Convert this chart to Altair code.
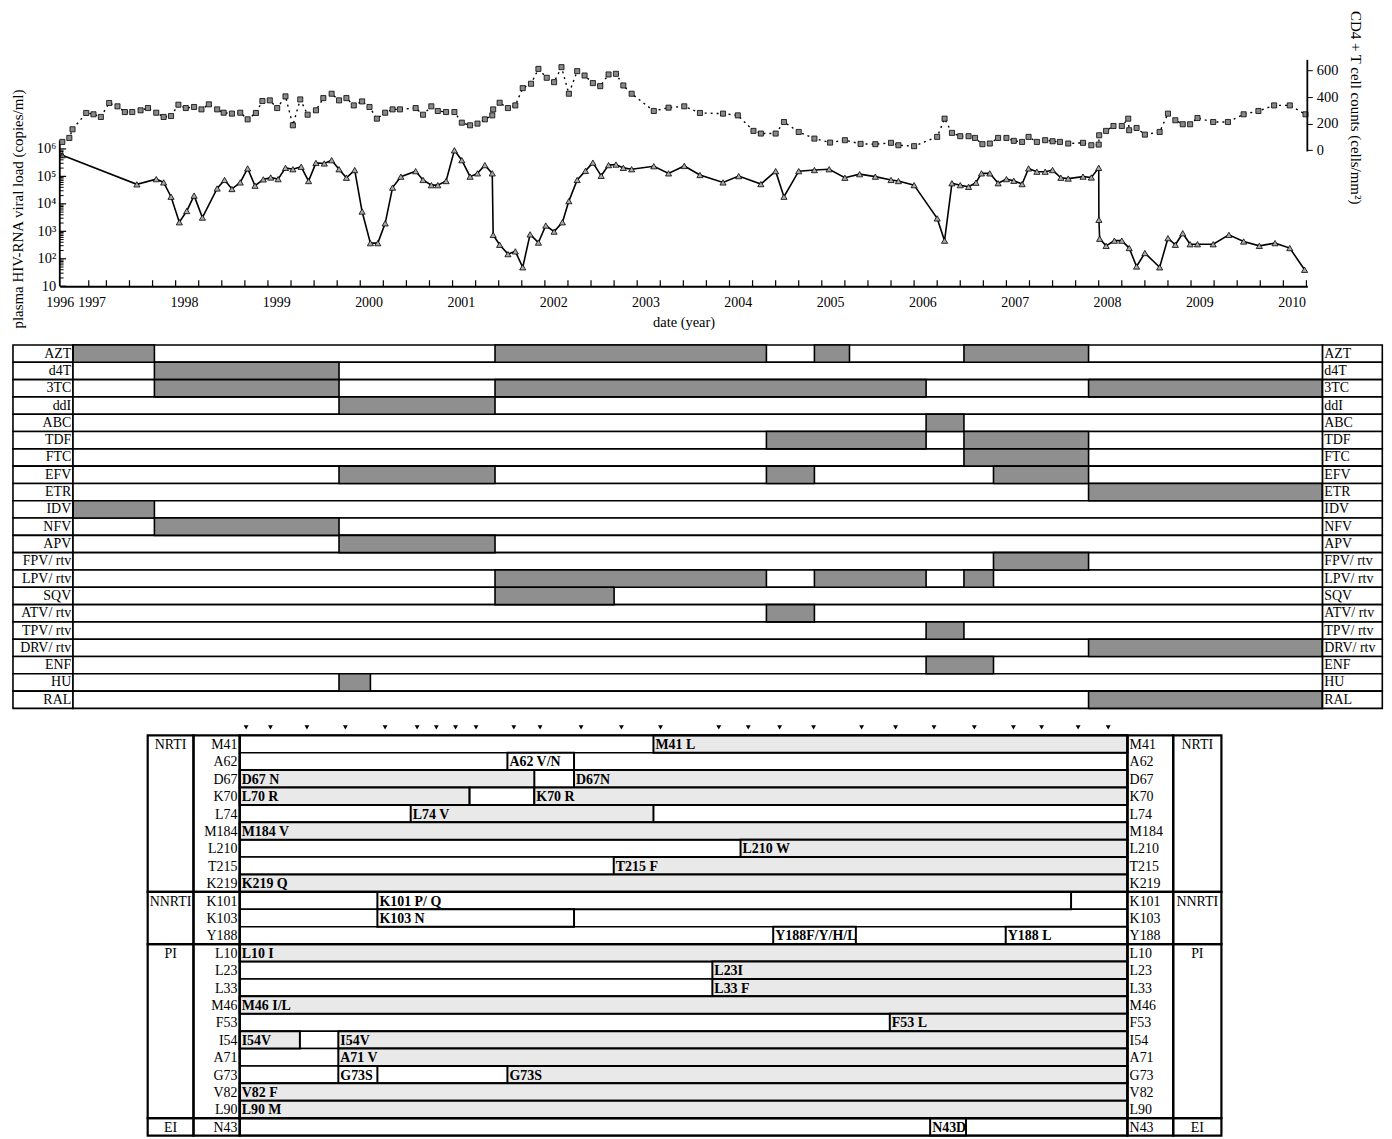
import altair as alt
import pandas as pd

FONT = "Liberation Serif"

# ---------------- top panel: viral load and CD4 counts ----------------
vl_year = [1996.08, 1997.49, 1997.70, 1997.78, 1997.86, 1997.95, 1998.03, 1998.11, 1998.20, 1998.36,
           1998.44, 1998.52, 1998.61, 1998.69, 1998.77, 1998.86, 1998.94, 1999.02, 1999.10, 1999.18,
           1999.27, 1999.35, 1999.43, 1999.52, 1999.60, 1999.68, 1999.76, 1999.85, 1999.93, 2000.02,
           2000.10, 2000.18, 2000.26, 2000.35, 2000.51, 2000.59, 2000.68, 2000.75, 2000.84, 2000.93,
           2001.01, 2001.10, 2001.18, 2001.26, 2001.34, 2001.35, 2001.42, 2001.51, 2001.59, 2001.67,
           2001.75, 2001.84, 2001.92, 2002.01, 2002.10, 2002.17, 2002.26, 2002.35, 2002.43, 2002.52,
           2002.60, 2002.68, 2002.76, 2002.85, 2003.09, 2003.25, 2003.42, 2003.59, 2003.84, 2004.01,
           2004.25, 2004.41, 2004.50, 2004.66, 2004.83, 2004.99, 2005.16, 2005.32, 2005.49, 2005.66,
           2005.74, 2005.91, 2006.16, 2006.24, 2006.32, 2006.41, 2006.50, 2006.58, 2006.64, 2006.73,
           2006.82, 2006.91, 2006.99, 2007.08, 2007.15, 2007.24, 2007.33, 2007.41, 2007.50, 2007.58,
           2007.74, 2007.83, 2007.91, 2007.912, 2007.92, 2007.99, 2008.08, 2008.16, 2008.24, 2008.32,
           2008.41, 2008.57, 2008.66, 2008.74, 2008.82, 2008.90, 2008.98, 2009.15, 2009.32, 2009.48,
           2009.65, 2009.82, 2009.98, 2010.14]
vl_log10 = [5.77, 4.71, 4.90, 4.78, 4.26, 3.33, 3.74, 4.30, 3.50, 4.56,
            4.87, 4.54, 4.78, 5.29, 4.66, 4.89, 4.96, 4.90, 5.31, 5.26,
            5.35, 4.83, 5.49, 5.47, 5.59, 5.26, 4.95, 5.23, 3.72, 2.57,
            2.57, 3.29, 4.59, 4.99, 5.19, 4.87, 4.68, 4.68, 4.83, 5.95,
            5.59, 4.99, 5.11, 5.41, 5.11, 2.87, 2.51, 2.17, 2.27, 1.69,
            2.89, 2.59, 3.21, 2.99, 3.33, 4.10, 4.87, 5.20, 5.50, 5.02,
            5.41, 5.43, 5.31, 5.26, 5.37, 5.11, 5.38, 5.05, 4.78, 5.01,
            4.72, 5.19, 4.26, 5.19, 5.23, 5.26, 4.95, 5.08, 4.99, 4.87,
            4.83, 4.68, 3.47, 2.66, 4.75, 4.68, 4.62, 4.77, 5.11, 5.11,
            4.75, 4.90, 4.84, 4.72, 5.29, 5.17, 5.17, 5.23, 4.95, 4.92,
            4.99, 4.96, 5.31, 3.42, 2.73, 2.47, 2.66, 2.66, 2.39, 1.72,
            2.21, 1.69, 2.75, 2.51, 2.93, 2.53, 2.53, 2.53, 2.87, 2.63,
            2.47, 2.57, 2.39, 1.60]

cd4_year = [1996.08, 1996.30, 1996.40, 1996.83, 1997.02, 1997.10, 1997.19, 1997.28, 1997.36, 1997.44,
            1997.53, 1997.61, 1997.70, 1997.78, 1997.86, 1997.94, 1998.02, 1998.11, 1998.19, 1998.27,
            1998.36, 1998.43, 1998.52, 1998.61, 1998.69, 1998.78, 1998.85, 1998.93, 1999.01, 1999.10,
            1999.18, 1999.26, 1999.34, 1999.43, 1999.51, 1999.60, 1999.68, 1999.76, 1999.84, 1999.93,
            2000.01, 2000.09, 2000.18, 2000.26, 2000.34, 2000.51, 2000.59, 2000.68, 2000.75, 2000.84,
            2000.93, 2001.01, 2001.10, 2001.18, 2001.26, 2001.34, 2001.35, 2001.42, 2001.51, 2001.59,
            2001.67, 2001.76, 2001.84, 2001.93, 2002.01, 2002.09, 2002.17, 2002.26, 2002.34, 2002.43,
            2002.51, 2002.60, 2002.68, 2002.76, 2002.85, 2003.09, 2003.25, 2003.42, 2003.59, 2003.84,
            2004.00, 2004.17, 2004.25, 2004.41, 2004.50, 2004.66, 2004.83, 2005.00, 2005.16, 2005.33,
            2005.49, 2005.66, 2005.74, 2005.91, 2006.16, 2006.24, 2006.32, 2006.41, 2006.50, 2006.57,
            2006.65, 2006.73, 2006.82, 2006.91, 2006.99, 2007.08, 2007.15, 2007.24, 2007.33, 2007.41,
            2007.49, 2007.58, 2007.74, 2007.83, 2007.91, 2007.915, 2007.99, 2008.07, 2008.16, 2008.23,
            2008.24, 2008.32, 2008.41, 2008.57, 2008.66, 2008.74, 2008.82, 2008.90, 2008.98, 2009.15,
            2009.31, 2009.48, 2009.64, 2009.81, 2009.98, 2010.15]
cd4_count = [62, 92, 157, 280, 270, 250, 355, 330, 287, 287,
             300, 317, 282, 250, 257, 342, 317, 325, 307, 345,
             307, 282, 275, 282, 232, 280, 370, 375, 317, 405,
             187, 382, 267, 300, 392, 425, 375, 392, 337, 367,
             325, 237, 282, 307, 307, 317, 267, 330, 295, 287,
             287, 207, 187, 200, 232, 262, 307, 357, 317, 337,
             467, 500, 612, 545, 512, 625, 425, 595, 562, 505,
             482, 570, 575, 487, 425, 295, 320, 330, 280, 275,
             262, 145, 125, 125, 212, 137, 87, 57, 75, 47,
             45, 55, 37, 30, 100, 237, 130, 105, 105, 92,
             45, 50, 92, 92, 70, 62, 100, 62, 75, 67,
             62, 50, 55, 37, 42, 112, 145, 182, 182, 237,
             150, 167, 117, 137, 275, 225, 195, 195, 242, 212,
             212, 270, 295, 337, 337, 270]

year_labels = list(range(1996, 2011))
quarter_ticks = [round(1996.91 + 0.25 * k, 2) for k in range(54)]
viral_decades = [10, 100, 1000, 10000, 100000, 1000000]
viral_minor = [m * 10 ** k for k in range(1, 6) for m in range(2, 10)]
cd4_tick_values = [0, 200, 400, 600]

# ---------------- middle panel: drug regimens ----------------
drugs = ["AZT", "d4T", "3TC", "ddI", "ABC", "TDF", "FTC", "EFV", "ETR", "IDV", "NFV", "APV",
         "FPV/ rtv", "LPV/ rtv", "SQV", "ATV/ rtv", "TPV/ rtv", "DRV/ rtv", "ENF", "HU", "RAL"]
on_drug = ["AZT", "AZT", "AZT", "AZT",
           "d4T",
           "3TC", "3TC", "3TC",
           "ddI", "ABC", "TDF", "TDF", "FTC",
           "EFV", "EFV", "EFV",
           "ETR", "IDV", "NFV", "APV", "FPV/ rtv",
           "LPV/ rtv", "LPV/ rtv", "LPV/ rtv",
           "SQV", "ATV/ rtv", "TPV/ rtv", "DRV/ rtv", "ENF", "HU", "RAL"]
on_start = [1996.42, 2001.37, 2004.83, 2006.45,
            1997.68,
            1997.68, 2001.37, 2007.80,
            1999.68, 2006.04, 2004.31, 2006.45, 2006.45,
            1999.68, 2004.31, 2006.77,
            2007.80, 1996.42, 1997.68, 1999.68, 2006.77,
            2001.37, 2004.83, 2006.45,
            2001.37, 2004.31, 2006.04, 2007.80, 2006.04, 1999.68, 2007.80]
on_end = [1997.68, 2004.31, 2005.21, 2007.80,
          1999.68,
          1999.68, 2006.04, 2010.33,
          2001.37, 2006.45, 2006.04, 2007.80, 2007.80,
          2001.37, 2004.83, 2007.80,
          2010.33, 1997.68, 1999.68, 2001.37, 2007.80,
          2004.31, 2006.04, 2006.77,
          2002.66, 2004.83, 2006.45, 2010.33, 2006.77, 2000.02, 2010.33]

# ---------------- bottom panel: resistance mutations ----------------
positions = ["M41", "A62", "D67", "K70", "L74", "M184", "L210", "T215", "K219",
             "K101", "K103", "Y188",
             "L10", "L23", "L33", "M46", "F53", "I54", "A71", "G73", "V82", "L90",
             "N43"]
sections = ["NRTI", "NNRTI", "PI", "EI"]
section_first = [0, 9, 12, 22]
section_last = [9, 12, 22, 23]

mut_pos = ["M41", "A62", "D67", "D67", "K70", "K70", "K70", "L74", "M184", "L210", "T215", "K219",
           "K101", "K103", "Y188", "Y188",
           "L10", "L23", "L33", "M46", "F53", "I54", "I54", "A71", "G73", "G73", "V82", "L90",
           "N43"]
mut_label = ["M41 L", "A62 V/N", "D67 N", "D67N", "L70 R", "", "K70 R", "L74 V", "M184 V", "L210 W",
             "T215 F", "K219 Q",
             "K101 P/ Q", "K103 N", "Y188F/Y/H/L", "Y188 L",
             "L10 I", "L23I", "L33 F", "M46 I/L", "F53 L", "I54V", "I54V", "A71 V", "G73S", "G73S",
             "V82 F", "L90 M",
             "N43D"]
mut_start = [2002.93, 2000.65, 1996.47, 2001.69, 1996.47, 2000.06, 2001.07, 1999.14, 1996.47, 2004.29,
             2002.31, 1996.47,
             1998.62, 1998.62, 2004.80, 2008.43,
             1996.47, 2003.85, 2003.85, 1996.47, 2006.62, 1996.47, 1998.01, 1998.01, 1998.01, 2000.65,
             1996.47, 1996.47,
             2007.25]
mut_end = [2010.33, 2001.69, 2001.07, 2010.33, 2000.06, 2001.07, 2010.33, 2002.93, 2010.33, 2010.33,
           2010.33, 2010.33,
           2009.45, 2001.69, 2006.09, 2010.33,
           2010.33, 2010.33, 2010.33, 2010.33, 2010.33, 1997.41, 2010.33, 2010.33, 1998.62, 2010.33,
           2010.33, 2010.33,
           2007.81]
mut_kind = ["dots", "plain", "dots", "dots", "dots", "plain", "dots", "dots", "dots", "dots",
            "dots", "dots",
            "plain", "plain", "plain", "plain",
            "dots", "dots", "dots", "dots", "dots", "dots", "dots", "dots", "plain", "dots",
            "dots", "dots",
            "plain"]
sample_times = [1996.57, 1996.95, 1997.52, 1998.12, 1998.74, 1999.24, 1999.54, 1999.84, 2000.16,
                2000.75, 2001.16, 2001.80, 2002.43, 2003.04, 2003.95, 2004.41, 2004.90, 2005.43,
                2006.18, 2006.71, 2007.31, 2007.94, 2008.55, 2008.99, 2009.56, 2010.03]

# ======================= TOP PANEL =======================
xs = alt.Scale(domain=[1996, 1997, 2010.17], range=[47, 79, 1300], nice=False, zero=False)
ylog = alt.Scale(type="log", domain=[10, 10 ** 11.04], nice=False)
ycd = alt.Scale(domain=[-1025, 1052], nice=False, zero=False)

vl_df = pd.DataFrame({"year": vl_year, "copies": [10 ** v for v in vl_log10]})
cd_df = pd.DataFrame({"year": cd4_year, "cd4": cd4_count})

x_axis = alt.Axis(values=year_labels, format="d", title="date (year)", grid=False, orient="bottom",
                  tickSize=0, labelPadding=9, labelFontSize=14, labelFont=FONT,
                  labelOverlap=False, labelFlush=False, labelColor="black",
                  titleFont=FONT, titleFontSize=14.5, titleFontWeight="normal", titleColor="black",
                  titlePadding=6, domainColor="black", domainWidth=1.8)

label_expr = ("datum.value < 50 ? '10' : '10' + ['', '', '²', '³', '⁴', '⁵', '⁶']"
              "[round(log(datum.value)/LN10)]")
y_axis = alt.Axis(orient="left", values=viral_decades, labelExpr=label_expr, offset=-47,
                  domain=False, grid=False, tickSize=0, labelPadding=4,
                  labelFont=FONT, labelFontSize=14.5, labelColor="black", labelOverlap=False,
                  labelFlush=False,
                  title="plasma HIV-RNA viral load (copies/ml)", titleFont=FONT, titleFontSize=15,
                  titleFontWeight="normal", titleColor="black", titleAngle=270, titleX=-34,
                  titleY=199, titleAlign="center", titleBaseline="bottom")

cd_axis = alt.Axis(orient="right", values=cd4_tick_values, domain=False, grid=False, tickSize=5,
                   tickColor="black", labelPadding=4, labelFont=FONT, labelFontSize=14.5,
                   labelColor="black", labelFlush=False,
                   title="CD4 + T cell counts (cells/mm²)", titleFont=FONT, titleFontSize=15,
                   titleFontWeight="normal", titleColor="black", titleAngle=90, titleX=40, titleY=0,
                   titleAlign="left", titleBaseline="bottom")

X = alt.X("year:Q", scale=xs, axis=x_axis)
Xr = alt.X("x:Q", scale=xs, axis=x_axis)

vl_line = alt.Chart(vl_df).mark_line(color="black", strokeWidth=1.6).encode(
    x=X, y=alt.Y("copies:Q", scale=ylog, axis=y_axis))
vl_pts = alt.Chart(vl_df).mark_point(shape="triangle-up", filled=True, fill="#a9a9a9",
                                     stroke="black", strokeWidth=0.8, size=38, opacity=1).encode(
    x=X, y=alt.Y("copies:Q", scale=ylog, axis=None))
left_rule = alt.Chart(pd.DataFrame({"x": [1996], "y": [10], "y2": [10 ** 6.3]})).mark_rule(
    color="black", strokeWidth=1.8).encode(
    x=Xr, y=alt.Y("y:Q", scale=ylog, axis=None), y2="y2")
major_df = pd.DataFrame({"x": [1996] * len(viral_decades), "x2": [1996.2] * len(viral_decades),
                         "y": viral_decades})
minor_df = pd.DataFrame({"x": [1996] * len(viral_minor), "x2": [1996.12] * len(viral_minor),
                         "y": viral_minor})
y_major = alt.Chart(major_df).mark_rule(color="black", strokeWidth=1.2).encode(
    x=Xr, x2="x2", y=alt.Y("y:Q", scale=ylog, axis=None))
y_minor = alt.Chart(minor_df).mark_rule(color="black", strokeWidth=1).encode(
    x=Xr, x2="x2", y=alt.Y("y:Q", scale=ylog, axis=None))
qt_df = pd.DataFrame({"x": quarter_ticks, "y": [10] * len(quarter_ticks),
                      "y2": [10 ** 1.22] * len(quarter_ticks)})
x_ticks = alt.Chart(qt_df).mark_rule(color="black", strokeWidth=1.2).encode(
    x=Xr, y=alt.Y("y:Q", scale=ylog, axis=None), y2="y2")

cd_line = alt.Chart(cd_df).mark_line(color="black", strokeWidth=1.4, strokeDash=[2, 4]).encode(
    x=X, y=alt.Y("cd4:Q", scale=ycd, axis=cd_axis))
cd_pts = alt.Chart(cd_df).mark_point(shape="square", filled=True, fill="#8a8a8a", stroke="black",
                                     strokeWidth=0.8, size=26, opacity=1).encode(
    x=X, y=alt.Y("cd4:Q", scale=ycd, axis=None))
right_rule = alt.Chart(pd.DataFrame({"x": [2010.17], "y": [-10], "y2": [680]})).mark_rule(
    color="black", strokeWidth=1.8).encode(
    x=Xr, y=alt.Y("y:Q", scale=ycd, axis=None), y2="y2")

top = alt.layer(vl_line, vl_pts, left_rule, y_major, y_minor, x_ticks,
                cd_line, cd_pts, right_rule).resolve_scale(
    y="independent").properties(width=1300, height=277)

# ======================= MIDDLE PANEL =======================
ymid = alt.Scale(domain=[0, 21], reverse=True, nice=False, zero=False)
mid_rows = pd.DataFrame({"drug": drugs, "i": list(range(len(drugs)))})
mid_rows["i2"] = mid_rows["i"] + 1
mid_rows["m"] = mid_rows["i"] + 0.5
on_df = pd.DataFrame({"drug": on_drug, "start": on_start, "end": on_end})
on_df["i"] = [drugs.index(d) for d in on_drug]
on_df["i2"] = on_df["i"] + 1

ym = alt.Y("i:Q", scale=ymid, axis=None)
mbase = alt.Chart(mid_rows)
cell_l = mbase.mark_rect(fill="white", stroke="black", strokeWidth=1.6).encode(
    x=alt.value(0), x2=alt.value(60.3), y=ym, y2="i2")
cell_m = mbase.mark_rect(fill="white", stroke="black", strokeWidth=1.6).encode(
    x=alt.value(60.3), x2=alt.value(1315.3), y=ym, y2="i2")
cell_r = mbase.mark_rect(fill="white", stroke="black", strokeWidth=1.6).encode(
    x=alt.value(1315.3), x2=alt.value(1375.3), y=ym, y2="i2")
drug_bars = alt.Chart(on_df).mark_rect(fill="#8f8f8f", stroke="black", strokeWidth=1.6).encode(
    x=alt.X("start:Q", scale=xs, axis=None), x2="end", y=ym, y2="i2")
lab_l = mbase.mark_text(align="right", baseline="middle", font=FONT, fontSize=14,
                        color="black").encode(
    x=alt.value(58.5), y=alt.Y("m:Q", scale=ymid, axis=None), text="drug:N")
lab_r = mbase.mark_text(align="left", baseline="middle", font=FONT, fontSize=14,
                        color="black").encode(
    x=alt.value(1317), y=alt.Y("m:Q", scale=ymid, axis=None), text="drug:N")
middle = alt.layer(cell_l, cell_m, cell_r, drug_bars, lab_l, lab_r).properties(
    width=1376, height=365)

# ======================= BOTTOM PANEL =======================
xb = alt.Scale(domain=[1996.47, 2010.33], range=[227.7, 1119.3], nice=False, zero=False)
yb = alt.Scale(domain=[0, 23], reverse=True, nice=False, zero=False)

b_rows = pd.DataFrame({"pos": positions, "i": list(range(len(positions)))})
b_rows["i2"] = b_rows["i"] + 1
b_rows["m"] = b_rows["i"] + 0.5
sec_df = pd.DataFrame({"cls": sections, "a": section_first, "b": section_last})
sec_df["m"] = sec_df["a"] + 0.5
mut_df = pd.DataFrame({"pos": mut_pos, "label": mut_label, "start": mut_start,
                       "end": mut_end, "kind": mut_kind})
mut_df["i"] = [positions.index(p) for p in mut_pos]
mut_df["i2"] = mut_df["i"] + 1
mut_df["m"] = mut_df["i"] + 0.5
samp_df = pd.DataFrame({"t": sample_times})

yi = alt.Y("i:Q", scale=yb, axis=None)
row_box = alt.Chart(b_rows).mark_rect(fill="white", stroke="black", strokeWidth=1.5).encode(
    x=alt.value(227.7), x2=alt.value(1119.3), y=yi, y2="i2")
mut_bars = alt.Chart(mut_df).mark_rect(stroke="black", strokeWidth=2).encode(
    x=alt.X("start:Q", scale=xb, axis=None), x2="end", y=yi, y2="i2",
    fill=alt.Fill("kind:N", scale=alt.Scale(domain=["dots", "plain"], range=["#e9e9e9", "#ffffff"]),
                  legend=None))
mut_text = alt.Chart(mut_df).mark_text(align="left", baseline="middle", dx=2, dy=1, font=FONT,
                                       fontSize=14, fontWeight="bold", color="black").encode(
    x=alt.X("start:Q", scale=xb, axis=None), y=alt.Y("m:Q", scale=yb, axis=None), text="label:N")

col_edges = [(135.3, 181.3), (181.3, 227.7), (227.7, 1119.3), (1119.3, 1165.3), (1165.3, 1213.7)]
sec_boxes = [alt.Chart(sec_df).mark_rect(fill="white", fillOpacity=0, stroke="black",
                                         strokeWidth=2.2).encode(
    x=alt.value(a), x2=alt.value(b), y=alt.Y("a:Q", scale=yb, axis=None), y2="b")
    for a, b in col_edges]

pos_l = alt.Chart(b_rows).mark_text(align="right", baseline="middle", font=FONT, fontSize=14,
                                    dy=1, color="black").encode(
    x=alt.value(225.5), y=alt.Y("m:Q", scale=yb, axis=None), text="pos:N")
pos_r = alt.Chart(b_rows).mark_text(align="left", baseline="middle", font=FONT, fontSize=14,
                                    dy=1, color="black").encode(
    x=alt.value(1121.5), y=alt.Y("m:Q", scale=yb, axis=None), text="pos:N")
cls_l = alt.Chart(sec_df).mark_text(align="center", baseline="middle", font=FONT, fontSize=14,
                                    dy=1, color="black").encode(
    x=alt.value(158.3), y=alt.Y("m:Q", scale=yb, axis=None), text="cls:N")
cls_r = alt.Chart(sec_df).mark_text(align="center", baseline="middle", font=FONT, fontSize=14,
                                    dy=1, color="black").encode(
    x=alt.value(1189.5), y=alt.Y("m:Q", scale=yb, axis=None), text="cls:N")
samples = alt.Chart(samp_df).mark_point(shape="triangle-down", filled=True, color="black",
                                        size=24, opacity=1).encode(
    x=alt.X("t:Q", scale=xb, axis=None), y=alt.value(-8))

bottom = alt.layer(row_box, mut_bars, mut_text, *sec_boxes, pos_l, pos_r, cls_l, cls_r,
                   samples).properties(width=1376, height=402)

chart = alt.vconcat(top, middle, bottom, spacing=15).properties(
    padding={"left": 2, "top": 0, "right": 0, "bottom": 0}, background="white"
).configure(font=FONT).configure_view(stroke=None)

chart.save("out.html", embed_options={"renderer": "svg", "actions": False})
